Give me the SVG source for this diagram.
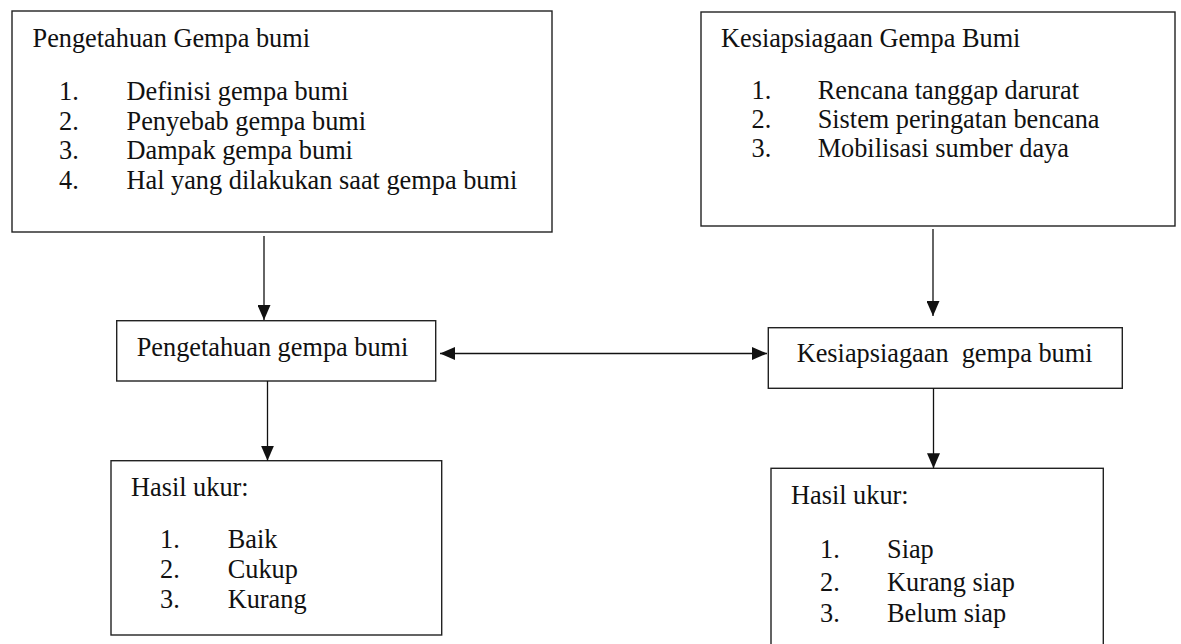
<svg xmlns="http://www.w3.org/2000/svg" width="1181" height="644" viewBox="0 0 1181 644">
<style>
.box{fill:#fff;stroke:#222;stroke-width:1.4}
.t{font-family:"Liberation Serif","Times New Roman",serif;font-size:26.3px;fill:#111}
.ln{stroke:#111;stroke-width:1.3;fill:none}
</style>
<defs>
<marker id="ah" viewBox="0 0 15 13" markerWidth="15" markerHeight="13" refX="15" refY="6.5" orient="auto-start-reverse" markerUnits="userSpaceOnUse">
<path d="M0,0 L15,6.5 L0,13 z" fill="#111"/>
</marker>
</defs>
<rect width="1181" height="644" fill="#fff"/>

<g id="node-pengetahuan-list">
<rect class="box" x="12" y="11" width="540" height="221"/>
<text class="t" x="32.5" y="46.5">Pengetahuan Gempa bumi</text>
<text class="t" x="59" y="100">1.</text>
<text class="t" x="126.5" y="100">Definisi gempa bumi</text>
<text class="t" x="59" y="129.5">2.</text>
<text class="t" x="126.5" y="129.5">Penyebab gempa bumi</text>
<text class="t" x="59" y="159">3.</text>
<text class="t" x="126.5" y="159">Dampak gempa bumi</text>
<text class="t" x="59" y="188.5">4.</text>
<text class="t" x="126.5" y="188.5">Hal yang dilakukan saat gempa bumi</text>
</g>

<g id="node-kesiapsiagaan-list">
<rect class="box" x="701" y="12" width="474" height="214"/>
<text class="t" x="721" y="46.5">Kesiapsiagaan Gempa Bumi</text>
<text class="t" x="751.5" y="98.5">1.</text>
<text class="t" x="817.7" y="98.5">Rencana tanggap darurat</text>
<text class="t" x="751.5" y="128">2.</text>
<text class="t" x="817.7" y="128">Sistem peringatan bencana</text>
<text class="t" x="751.5" y="157">3.</text>
<text class="t" x="817.7" y="157">Mobilisasi sumber daya</text>
</g>

<g id="node-pengetahuan">
<rect class="box" x="116.7" y="320.7" width="319" height="60.3"/>
<text class="t" x="136.7" y="355.7">Pengetahuan gempa bumi</text>
</g>

<g id="node-kesiapsiagaan">
<rect class="box" x="768.3" y="327.7" width="354" height="60.6"/>
<text class="t" x="796.7" y="361.7" style="white-space:pre" xml:space="preserve">Kesiapsiagaan  gempa bumi</text>
</g>

<g id="node-hasil-pengetahuan">
<rect class="box" x="111" y="460.7" width="330.7" height="174.3"/>
<text class="t" x="131" y="496">Hasil ukur:</text>
<text class="t" x="160" y="547.7">1.</text>
<text class="t" x="227.7" y="547.7">Baik</text>
<text class="t" x="160" y="578">2.</text>
<text class="t" x="227.7" y="578">Cukup</text>
<text class="t" x="160" y="607.5">3.</text>
<text class="t" x="227.7" y="607.5">Kurang</text>
</g>

<g id="node-hasil-kesiapsiagaan">
<rect class="box" x="771" y="468.3" width="332.3" height="200"/>
<text class="t" x="791" y="504">Hasil ukur:</text>
<text class="t" x="820" y="557.5">1.</text>
<text class="t" x="887" y="557.5">Siap</text>
<text class="t" x="820" y="590.5">2.</text>
<text class="t" x="887" y="590.5">Kurang siap</text>
<text class="t" x="820" y="622">3.</text>
<text class="t" x="887" y="622">Belum siap</text>
</g>

<g id="connectors">
<line class="ln" x1="264" y1="236" x2="264" y2="320" marker-end="url(#ah)"/>
<line class="ln" x1="933" y1="229" x2="933" y2="316" marker-end="url(#ah)"/>
<line class="ln" x1="267.5" y1="381" x2="267.5" y2="460.7" marker-end="url(#ah)"/>
<line class="ln" x1="933.5" y1="388.3" x2="933.5" y2="468.3" marker-end="url(#ah)"/>
<line class="ln" x1="440" y1="353.5" x2="767" y2="353.5" marker-start="url(#ah)" marker-end="url(#ah)"/>
</g>
</svg>
